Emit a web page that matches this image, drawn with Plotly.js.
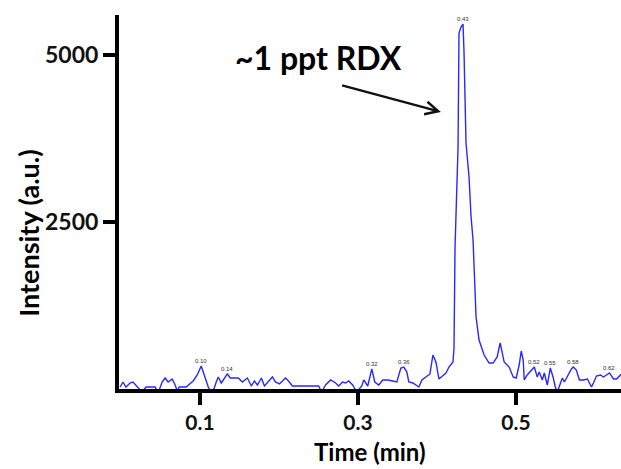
<!DOCTYPE html>
<html>
<head>
<meta charset="utf-8">
<script src="https://cdn.plot.ly/plotly-3.0.1.min.js"></script>
<style>html,body{margin:0;padding:0;background:#fff;}#chart{width:621px;height:469px;}</style>
</head>
<body>
<div id="chart"></div>
<script>
// Retention time (min)
var timeMin = [
 -0.001,0.0025,0.0063,0.0114,0.0152,0.0216,0.0267,0.0317,0.0432,0.047,
 0.0521,0.0559,0.0597,0.0648,0.0686,0.0712,0.0737,0.0825,0.0863,0.0914,
 0.0965,0.1016,0.1067,0.1105,0.1143,0.1181,0.1206,0.1232,0.127,0.1308,
 0.1346,0.1384,0.1435,0.1486,0.1537,0.16,0.1651,0.1689,0.1727,0.1778,
 0.1816,0.1867,0.1917,0.1956,0.2006,0.2044,0.2083,0.2121,0.2171,0.2337,
 0.2502,0.254,0.259,0.2654,0.2717,0.2756,0.2806,0.2844,0.2883,0.2933,
 0.2984,0.3048,0.3073,0.3124,0.3175,0.3213,0.3263,0.3314,0.3378,0.3441,
 0.3492,0.3543,0.3581,0.3619,0.3644,0.3695,0.3733,0.3771,0.381,0.386,
 0.3911,0.3949,0.3987,0.4025,0.4076,0.4114,0.4152,0.4203,0.4216,0.4229,
 0.4267,0.4273,0.4279,0.4305,0.433,0.4343,0.4356,0.4368,0.4406,0.4432,
 0.4457,0.447,0.4483,0.4495,0.4533,0.4597,0.466,0.4711,0.4762,0.48,
 0.4851,0.4914,0.4965,0.5003,0.5041,0.5067,0.5092,0.5105,0.5143,0.5168,
 0.5206,0.5232,0.527,0.5295,0.5333,0.5359,0.5397,0.5435,0.5473,0.5498,
 0.5524,0.5549,0.5587,0.5613,0.5663,0.5702,0.5727,0.5765,0.5803,0.5854,
 0.5905,0.593,0.5956,0.5981,0.6019,0.607,0.6108,0.6146,0.6184,0.6235,
 0.6273,0.6324,0.6362
];
// Intensity (a.u.)
var intensity = [
 30,105,30,90,105,30,-45,30,30,-60,
 105,165,105,150,60,-30,30,30,75,120,
 210,344,165,30,-60,15,105,180,90,165,
 225,165,165,165,105,165,45,120,60,165,
 45,120,180,105,75,120,165,120,45,45,
 45,-45,60,135,90,45,105,90,120,60,
 -45,45,135,45,300,105,60,135,135,120,
 105,314,329,254,105,90,60,30,135,180,
 225,509,404,150,195,240,329,404,614,2126,
 3623,5105,5329,5419,5464,5030,4326,3683,3174,2575,
 2231,1826,1183,1078,734,509,389,389,479,689,
 404,329,180,165,359,569,434,135,210,240,
 300,329,180,254,135,240,60,314,165,30,
 -45,30,165,105,210,300,329,284,135,135,
 150,90,30,90,195,210,180,210,240,150,
 150,210,225
];
// Labelled peaks
var peakTimes = [0.1016,0.1346,0.3175,0.3581,0.433,0.5232,0.5435,0.5727,0.6184];
var peakHeights = [344,225,300,329,5464,329,314,329,240];
var peakLabels = ['0.10','0.14','0.32','0.36','0.43','0.52','0.55','0.58','0.62'];
// Tick labels
var xTickVals = [0.1,0.3,0.5];
var xTickText = ['0.1','0.3','0.5'];
var yTickVals = [2500,5000];
var yTickText = ['2500','5000'];
// Titles and callout
var xTitle = 'Time (min)';
var yTitle = 'Intensity (a.u.)';
var calloutText = '~1 ppt RDX';
var calloutPos = [0.25, 4970];
var arrowHead = [0.405, 4147];
var arrowTail = [0.278, 4551];

var FONT = 'Lato, "Open Sans", sans-serif';

var annotations = peakTimes.map(function(t, i){
  return {x:t, y:peakHeights[i], xref:'x', yref:'y', text:peakLabels[i], showarrow:false,
          yanchor:'bottom', yshift:0, font:{family:'Arial, sans-serif', size:6, color:'#333'}};
});
annotations.push({x:arrowHead[0], y:arrowHead[1], ax:arrowTail[0], ay:arrowTail[1],
  xref:'x', yref:'y', axref:'x', ayref:'y', text:'', showarrow:true,
  arrowhead:5, arrowsize:1.1, arrowwidth:2.3, arrowcolor:'#111'});
annotations.push({x:calloutPos[0], y:calloutPos[1], xref:'x', yref:'y', text:'<b>'+calloutText+'</b>', showarrow:false,
  font:{family:FONT, size:32, color:'#000'}});
// y title placed as rotated annotation (offset below plot centre as in the reference)
annotations.push({x:0, y:0.415, xref:'paper', yref:'paper', xanchor:'center', yanchor:'middle',
  xshift:-90, text:'<b>'+yTitle+'</b>', textangle:-90, showarrow:false,
  font:{family:FONT, size:27, color:'#000'}});
// x title as annotation below the tick labels
annotations.push({x:0.5, y:0, xref:'paper', yref:'paper', xanchor:'center', yanchor:'top',
  yshift:-46, text:'<b>'+xTitle+'</b>', showarrow:false,
  font:{family:FONT, size:24, color:'#000'}});

var trace = {x:timeMin, y:intensity, type:'scatter', mode:'lines',
  line:{color:'#2828ff', width:1.4}, hoverinfo:'skip'};

var layout = {
  width:621, height:469,
  margin:{l:119, r:0, t:15, b:80},
  paper_bgcolor:'#fff', plot_bgcolor:'#fff',
  showlegend:false,
  font:{family:FONT, color:'#000'},
  xaxis:{range:[-0.0025,0.633], showgrid:false, zeroline:false, showline:true, linewidth:4, linecolor:'#000',
    ticks:'outside', ticklen:12, tickwidth:4, tickcolor:'#000',
    tickvals:xTickVals, ticktext:xTickText, tickfont:{family:FONT, size:21, color:'#111', weight:'bold'}},
  yaxis:{range:[0,5600], showgrid:false, zeroline:false, showline:true, linewidth:4, linecolor:'#000',
    ticks:'outside', ticklen:12, tickwidth:4, tickcolor:'#000',
    tickvals:yTickVals, ticktext:yTickText, tickfont:{family:FONT, size:23, color:'#111', weight:'bold'}},
  annotations:annotations
};
Plotly.newPlot('chart', [trace], layout, {displayModeBar:false, staticPlot:true});
</script>
</body>
</html>
